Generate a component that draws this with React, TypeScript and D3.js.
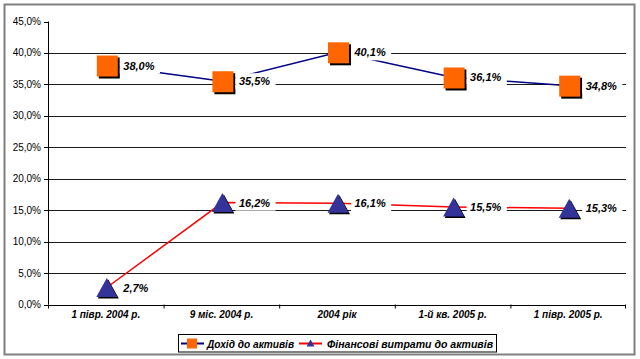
import React from "react";
import * as d3 from "d3";

const categories = ["1 півр. 2004 р.", "9 міс. 2004 р.", "2004 рік", "1-й кв. 2005 р.", "1 півр. 2005 р."];
const incomeToAssets = [38.0, 35.5, 40.1, 36.1, 34.8];
const financeCostsToAssets = [2.7, 16.2, 16.1, 15.5, 15.3];
const yTicks = [0, 5, 10, 15, 20, 25, 30, 35, 40, 45];
const seriesNames = ["Дохід до активів", "Фінансові витрати до активів"];

const W = 640;
const H = 359;
const FONT = "'Liberation Sans', Arial, sans-serif";

const fmt = (v: number) => v.toFixed(1).replace(".", ",") + "%";

let ctx: CanvasRenderingContext2D | null = null;
function measure(text: string, font: string) {
  if (!ctx) {
    const c = document.createElement("canvas");
    ctx = c.getContext("2d");
  }
  if (!ctx) return text.length * 6;
  ctx.font = font;
  return ctx.measureText(text).width;
}

export default function App() {
  const x = d3.scaleBand<string>().domain(categories).range([48, 626]);
  const y = d3.scaleLinear().domain([0, 45]).range([304.5, 21.5]);
  const bw = x.bandwidth();
  const cxOf = (i: number) => (x(categories[i]) as number) + bw / 2 + 1;

  const line = d3
    .line<number>()
    .x((_, i) => cxOf(i))
    .y((d) => y(d));

  const labelFont = `italic bold 11px ${FONT}`;

  const renderLabel = (v: number, i: number, key: string) => {
    const cx = cxOf(i);
    const cy = y(v);
    const t = fmt(v);
    const tw = measure(t, labelFont);
    return (
      <g key={key}>
        <rect x={cx + 13} y={cy - 8} width={tw + 9} height={16} fill="#fff" />
        <text
          x={cx + 16.5}
          y={cy + 4}
          fontFamily={FONT}
          fontSize={11}
          fontStyle="italic"
          fontWeight="bold"
          fill="#000"
        >
          {t}
        </text>
      </g>
    );
  };

  const tri = (cx: number, cy: number, w: number, h: number) =>
    `M${cx},${cy - h / 2} L${cx + w / 2},${cy + h / 2} L${cx - w / 2},${cy + h / 2} Z`;

  return (
    <svg width={W} height={H} style={{ position: "absolute", left: 0, top: 0 }}>
      <rect x={0} y={0} width={W} height={H} fill="#fff" />
      <rect x={4.5} y={4.5} width={630} height={350} fill="#fff" stroke="#808080" strokeWidth={2} />

      {/* gridlines */}
      {yTicks
        .filter((t) => t > 0 && t < 45)
        .map((t) => (
          <line key={"g" + t} x1={48} x2={626} y1={Math.round(y(t)) + 0.5} y2={Math.round(y(t)) + 0.5} stroke="#1a1a1a" strokeWidth={1} />
        ))}

      {/* y axis */}
      <line x1={48.5} x2={48.5} y1={y(45)} y2={y(0)} stroke="#000" />
      {yTicks.map((t) => (
        <g key={"yt" + t}>
          <line x1={44} x2={48} y1={Math.round(y(t)) + 0.5} y2={Math.round(y(t)) + 0.5} stroke="#000" />
          <text x={41} y={y(t) + 3.5} textAnchor="end" fontFamily={FONT} fontSize={10} fill="#000">
            {t.toFixed(1).replace(".", ",") + "%"}
          </text>
        </g>
      ))}

      {/* x axis */}
      <line x1={48} x2={626} y1={Math.round(y(0)) + 0.5} y2={Math.round(y(0)) + 0.5} stroke="#000" />
      {categories.map((c, i) => (
        <line key={"xt" + i} x1={(x(c) as number) + 0.5} x2={(x(c) as number) + 0.5} y1={y(0)} y2={y(0) + 4} stroke="#000" />
      ))}
      <line x1={625.5} x2={625.5} y1={y(0)} y2={y(0) + 4} stroke="#000" />
      {categories.map((c, i) => (
        <text
          key={"xl" + i}
          x={(x(c) as number) + bw / 2}
          y={318}
          textAnchor="middle"
          fontFamily={FONT}
          fontSize={10}
          fontStyle="italic"
          fontWeight="bold"
          fill="#000"
        >
          {c}
        </text>
      ))}

      {/* lines */}
      <path d={line(incomeToAssets) || ""} fill="none" stroke="#000080" strokeWidth={1.5} />
      <path d={line(financeCostsToAssets) || ""} fill="none" stroke="#ff0000" strokeWidth={1.5} />

      {/* markers */}
      {incomeToAssets.map((v, i) => {
        const cx = cxOf(i);
        const cy = y(v);
        return (
          <g key={"sq" + i}>
            <rect x={cx - 10 + 2} y={cy - 10 + 2} width={21} height={21} fill="#000" />
            <rect x={cx - 10} y={cy - 10} width={21} height={21} fill="#ff6600" />
          </g>
        );
      })}
      {financeCostsToAssets.map((v, i) => {
        const cx = cxOf(i);
        const cy = y(v);
        return (
          <g key={"tr" + i}>
            <path d={tri(cx + 1.5, cy + 1.5, 21, 19)} fill="#000" />
            <path d={tri(cx, cy, 21, 19)} fill="#333399" />
          </g>
        );
      })}

      {/* labels */}
      {incomeToAssets.map((v, i) => renderLabel(v, i, "la" + i))}
      {financeCostsToAssets.map((v, i) => renderLabel(v, i, "lb" + i))}

      {/* legend */}
      <rect x={178.5} y={334.5} width={318} height={17.5} fill="#fff" stroke="#000" strokeWidth={1} />
      <line x1={181} x2={204} y1={343.5} y2={343.5} stroke="#000080" strokeWidth={2} />
      <rect x={187} y={338.5} width={10} height={10} fill="#ff6600" />
      <text
        x={207}
        y={347.5}
        fontFamily={FONT}
        fontSize={10}
        fontStyle="italic"
        fontWeight="bold"
        textLength={87}
        lengthAdjust="spacingAndGlyphs"
      >
        {seriesNames[0]}
      </text>
      <line x1={299} x2={322} y1={343.5} y2={343.5} stroke="#ff0000" strokeWidth={2} />
      <path d={tri(310.5, 343, 8, 7)} fill="#333399" />
      <text
        x={327}
        y={347.5}
        fontFamily={FONT}
        fontSize={10}
        fontStyle="italic"
        fontWeight="bold"
        textLength={166}
        lengthAdjust="spacingAndGlyphs"
      >
        {seriesNames[1]}
      </text>
    </svg>
  );
}
